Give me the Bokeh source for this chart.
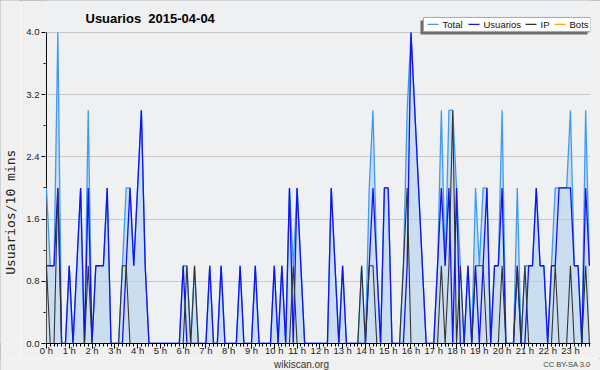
from bokeh.plotting import figure
from bokeh.layouts import column, row
from bokeh.models import Range1d, FixedTicker, PrintfTickFormatter
from bokeh.embed import file_html
from bokeh.resources import INLINE
from bokeh.core.properties import value

# 10-minute slots of 2015-04-04 (0 = 00:00, 143 = 23:50)
slot = list(range(144))

total = [
    2, 1, 1, 4, 0, 0, 1, 0, 1, 2, 0, 3,
    0, 1, 1, 1, 2, 0, 0, 0, 1, 2, 2, 1,
    2, 3, 1, 0, 0, 0, 0, 0, 0, 0, 0, 0,
    1, 1, 0, 1, 0, 0, 0, 1, 0, 0, 1, 0,
    0, 0, 0, 1, 0, 0, 0, 1, 0, 0, 0, 0,
    1, 0, 1, 0, 2, 1, 2, 1, 0, 0, 0, 0,
    0, 0, 0, 2, 1, 0, 1, 0, 0, 0, 0, 1,
    0, 2, 3, 1, 0, 2, 2, 0, 0, 0, 1, 3,
    4, 3, 2, 1, 0, 0, 0, 1, 3, 1, 3, 3,
    2, 1, 0, 1, 0, 2, 1, 2, 2, 0, 1, 1,
    3, 0, 0, 0, 2, 0, 1, 1, 1, 2, 1, 1,
    0, 1, 2, 2, 2, 2, 3, 1, 1, 0, 3, 1,
]
usuarios = [
    1, 1, 1, 2, 0, 0, 1, 0, 1, 2, 0, 2,
    0, 1, 1, 1, 2, 0, 0, 0, 0, 1, 2, 1,
    2, 3, 1, 0, 0, 0, 0, 0, 0, 0, 0, 0,
    1, 0, 0, 0, 0, 0, 0, 1, 0, 0, 1, 0,
    0, 0, 0, 1, 0, 0, 0, 1, 0, 0, 0, 0,
    1, 0, 1, 0, 2, 0, 2, 1, 0, 0, 0, 0,
    0, 0, 0, 2, 1, 0, 1, 0, 0, 0, 0, 0,
    0, 1, 2, 1, 0, 2, 2, 0, 0, 0, 0, 1,
    4, 3, 2, 1, 0, 0, 0, 1, 2, 1, 2, 0,
    2, 0, 0, 1, 0, 1, 0, 1, 2, 0, 1, 1,
    2, 0, 0, 0, 1, 0, 0, 1, 1, 2, 1, 1,
    0, 1, 1, 2, 2, 2, 2, 1, 1, 0, 2, 1,
]
ip = [
    1, 0, 0, 2, 0, 0, 0, 0, 0, 0, 0, 1,
    0, 0, 0, 0, 0, 0, 0, 0, 1, 1, 0, 0,
    0, 0, 0, 0, 0, 0, 0, 0, 0, 0, 0, 0,
    0, 1, 0, 1, 0, 0, 0, 0, 0, 0, 0, 0,
    0, 0, 0, 0, 0, 0, 0, 0, 0, 0, 0, 0,
    0, 0, 0, 0, 0, 1, 0, 0, 0, 0, 0, 0,
    0, 0, 0, 0, 0, 0, 0, 0, 0, 0, 0, 1,
    0, 1, 1, 0, 0, 0, 0, 0, 0, 0, 1, 2,
    0, 0, 0, 0, 0, 0, 0, 0, 1, 0, 1, 3,
    0, 1, 0, 0, 0, 1, 1, 1, 0, 0, 0, 0,
    1, 0, 0, 0, 1, 0, 1, 0, 0, 0, 0, 0,
    0, 0, 1, 0, 0, 0, 1, 0, 0, 0, 1, 0,
]
bots = [
    0, 0, 0, 0, 0, 0, 0, 0, 0, 0, 0, 0,
    0, 0, 0, 0, 0, 0, 0, 0, 0, 0, 0, 0,
    0, 0, 0, 0, 0, 0, 0, 0, 0, 0, 0, 0,
    0, 0, 0, 0, 0, 0, 0, 0, 0, 0, 0, 0,
    0, 0, 0, 0, 0, 0, 0, 0, 0, 0, 0, 0,
    0, 0, 0, 0, 0, 0, 0, 0, 0, 0, 0, 0,
    0, 0, 0, 0, 0, 0, 0, 0, 0, 0, 0, 0,
    0, 0, 0, 0, 0, 0, 0, 0, 0, 0, 0, 0,
    0, 0, 0, 0, 0, 0, 0, 0, 0, 0, 0, 0,
    0, 0, 0, 0, 0, 0, 0, 0, 0, 0, 0, 0,
    0, 0, 0, 0, 0, 0, 0, 0, 0, 0, 0, 0,
    0, 0, 0, 0, 0, 0, 0, 0, 0, 0, 0, 0,
]

hour_ticks = [0, 6, 12, 18, 24, 30, 36, 42, 48, 54, 60, 66,
              72, 78, 84, 90, 96, 102, 108, 114, 120, 126, 132, 138]
hour_labels = ["0 h", "1 h", "2 h", "3 h", "4 h", "5 h", "6 h", "7 h",
               "8 h", "9 h", "10 h", "11 h", "12 h", "13 h", "14 h", "15 h",
               "16 h", "17 h", "18 h", "19 h", "20 h", "21 h", "22 h", "23 h"]
y_ticks = [0.0, 0.8, 1.6, 2.4, 3.2, 4.0]
y_minor = [0.4, 1.2, 2.0, 2.8, 3.6]
series_names = ["Total", "Usuarios", "IP", "Bots"]
y_title = "Usuarios/10 mins"
source_note = "wikiscan.org"
licence_note = "CC BY-SA 3.0"

C_TOTAL = "#3d9bf5"
C_USR = "#1212f5"
C_IP = "#333333"
C_BOTS = "#ffa500"
BG = "#f0f0f0"
FONT = "Liberation Sans"

# page layout: [left strip | main chart] over a bottom strip
LEFT_W = 20
MAIN_H = 358
BOTTOM_H = 370 - MAIN_H
AXIS_Y = 344          # page row of the x axis

p = figure(width=600 - LEFT_W, height=MAIN_H, output_backend="svg",
           toolbar_location=None,
           x_range=Range1d(-0.25, 143.28), y_range=Range1d(0, 4.41026),
           min_border_left=45 - LEFT_W, min_border_right=10,
           min_border_top=0, min_border_bottom=MAIN_H - AXIS_Y)
p.border_fill_color = BG
p.background_fill_color = "#eef0f2"
p.outline_line_color = None

# helpers: page pixel -> data position of the main chart
def X(px):
    return (px - 45.95) / 3.797

def Y(py):
    return 4 - (py - 32) / 78.0

# x axis
p.xaxis.ticker = FixedTicker(ticks=hour_ticks, minor_ticks=slot)
p.xaxis.major_label_overrides = {t: l for t, l in zip(hour_ticks, hour_labels)}
p.xaxis.axis_line_color = "black"
p.xaxis.major_tick_line_color = "black"
p.xaxis.minor_tick_line_color = "black"
p.xaxis.major_tick_in = 0
p.xaxis.major_tick_out = 5
p.xaxis.minor_tick_in = 0
p.xaxis.minor_tick_out = 3
p.xaxis.major_label_standoff = -4
p.xaxis.major_label_text_font = FONT
p.xaxis.major_label_text_font_size = "9.5px"
p.xaxis.major_label_text_color = "#222222"

# y axis
p.yaxis.ticker = FixedTicker(ticks=y_ticks, minor_ticks=y_minor)
p.yaxis.formatter = PrintfTickFormatter(format="%.1f")
p.yaxis.axis_line_color = None
p.yaxis.major_tick_line_color = "black"
p.yaxis.minor_tick_line_color = "black"
p.yaxis.major_tick_in = 0
p.yaxis.major_tick_out = 4
p.yaxis.minor_tick_in = 0
p.yaxis.minor_tick_out = 2
p.yaxis.major_label_standoff = 2
p.yaxis.major_label_text_font = FONT
p.yaxis.major_label_text_font_size = "9.5px"
p.yaxis.major_label_text_color = "#222222"

p.xgrid.visible = False
p.ygrid.ticker = FixedTicker(ticks=y_ticks)
p.ygrid.grid_line_color = "#c8c8c8"

# y axis line (stops at 4.0)
p.segment(x0=[0], y0=[0], x1=[0], y1=[4], line_color="black", line_width=1)

# series
p.line(slot, bots, line_color=C_BOTS, line_width=1.2)
p.varea(x=slot, y1=[0] * len(slot), y2=total, fill_color="#b4d2ee", fill_alpha=0.6)
p.line(slot, total, line_color=C_TOTAL, line_width=1.3)
p.line(slot, usuarios, line_color=C_USR, line_width=1.3)
p.line(slot, ip, line_color=C_IP, line_width=1.1)

# title
p.text(x=[X(85)], y=[Y(18)], text=["Usuarios\u00a0 2015-04-04"],
       text_font=value(FONT), text_font_style="bold",
       text_font_size="13px", text_color="black",
       text_align="left", text_baseline="middle")

# legend box with shadow
p.quad(left=[X(420)], right=[X(587)], top=[Y(20)], bottom=[Y(34)],
       fill_color="#6e6e6e", line_color=None)
p.quad(left=[X(423)], right=[X(590)], top=[Y(17)], bottom=[Y(31)],
       fill_color="white", line_color="#a8a8a8", line_width=1)
leg_line_x = [427, 468, 525, 554]
leg_text_x = [442, 483, 540, 569]
leg_colors = [C_TOTAL, C_USR, C_IP, C_BOTS]
for lx, tx, c, name in zip(leg_line_x, leg_text_x, leg_colors, series_names):
    p.segment(x0=[X(lx)], y0=[Y(24)], x1=[X(lx + 11)], y1=[Y(24)],
              line_color=c, line_width=1.3)
    p.text(x=[X(tx)], y=[Y(24.5)], text=[name], text_font=value(FONT),
           text_font_size="9.5px", text_color="#111111",
           text_align="left", text_baseline="middle")


def strip(w, h):
    s = figure(width=w, height=h, output_backend="svg", toolbar_location=None,
               x_range=Range1d(0, w), y_range=Range1d(0, h),
               x_axis_type=None, y_axis_type=None, min_border=0)
    s.border_fill_color = BG
    s.background_fill_color = BG
    s.outline_line_color = None
    s.grid.visible = False
    return s

# left strip: rotated axis title
left = strip(LEFT_W, MAIN_H)
left.text(x=[10], y=[MAIN_H - 221], text=[y_title], angle=1.5708,
          text_font=value("DejaVu Sans Mono"), text_font_size="13px",
          text_color="#222222", text_align="center", text_baseline="middle")

# bottom strip: source and licence notes
bottom = strip(600, BOTTOM_H)
bottom.text(x=[301], y=[6.3], text=[source_note],
            text_font=value(FONT), text_font_size="10px", text_color="#333333",
            text_align="center", text_baseline="middle")
bottom.text(x=[590], y=[6], text=[licence_note],
            text_font=value(FONT), text_font_size="7.5px", text_color="#444444",
            text_align="right", text_baseline="middle")

page = column(row(left, p, spacing=0), bottom, spacing=0)
page.styles = {"outline": "2px solid #b4b4b4", "outline-offset": "-2px"}

open("out.html", "w").write(file_html(page, INLINE))
